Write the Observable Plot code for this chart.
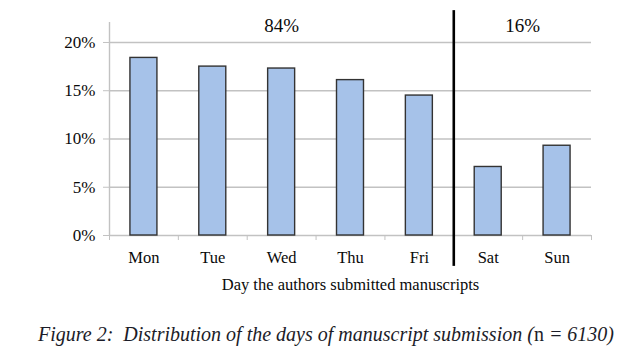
<!DOCTYPE html>
<html>
<head>
<meta charset="utf-8">
<script src="https://cdn.jsdelivr.net/npm/d3@7"></script>
<script src="https://cdn.jsdelivr.net/npm/@observablehq/plot@0.6"></script>
<style>
  html, body { margin: 0; padding: 0; background: #fff; }
  #caption { font-family: "Liberation Serif", serif; font-style: italic; font-size: 20px; color: #1c1c28; white-space: pre; text-align: center; width: 652px; margin-top: 23px; }
  #caption .up { font-style: normal; }
</style>
</head>
<body>
<div id="chart"></div>
<div id="caption">Figure 2:  Distribution of the days of manuscript submission (<span class="up">n</span> = 6130)</div>
<script>
const days = ["Mon", "Tue", "Wed", "Thu", "Fri", "Sat", "Sun"];
const shares = [18.4, 17.5, 17.3, 16.1, 14.5, 7.1, 9.3];
const yTicks = [0, 5, 10, 15, 20];
const groupLabels = ["84%", "16%"];
const groupDays = [["Mon", "Tue", "Wed", "Thu", "Fri"], ["Sat", "Sun"]];
const xTitle = "Day the authors submitted manuscripts";

const data = days.map((d, i) => ({day: d, i, share: shares[i]}));
const groups = groupLabels.map((g, k) => ({label: g, i: d3.mean(groupDays[k], d => days.indexOf(d))}));
const splitAt = days.indexOf("Sat") - 0.5;
const bounds = d3.range(days.length + 1).map(k => k - 0.5);
const yMax = 22.07;
const half = 0.196;
const font = "Liberation Serif, Times New Roman, serif";
const gray = "#c2c2c2";

const chart = Plot.plot({
  width: 638,
  height: 300,
  marginLeft: 109,
  marginRight: 47,
  marginTop: 22,
  marginBottom: 65,
  style: {fontFamily: font, color: "#0a0a0a", background: "#fff"},
  x: {type: "linear", domain: [-0.5, days.length - 0.5]},
  y: {domain: [0, yMax]},
  marks: [
    Plot.ruleY(yTicks, {stroke: gray, strokeWidth: 1.4}),
    Plot.ruleX([-0.5], {y1: 0, y2: yMax, stroke: gray, strokeWidth: 1.4}),
    Plot.axisY({ticks: yTicks, tickFormat: d => d + "%", tickSize: 6, tickPadding: 8, stroke: gray, strokeOpacity: 1, fontSize: 17, label: null}),
    Plot.axisX({ticks: bounds, tickFormat: () => "", tickSize: 5, stroke: gray, strokeOpacity: 1, label: null}),
    Plot.axisX({ticks: d3.range(days.length), tickFormat: i => days[i], tickSize: 0, tickPadding: 16, fontSize: 16.5,
      label: xTitle, labelAnchor: "center", labelArrow: "none", labelOffset: 54}),
    Plot.rectY(data, {x1: d => d.i - half, x2: d => d.i + half, y: "share", fill: "#a6c2e9", stroke: "#333", strokeWidth: 1.4}),
    Plot.ruleX([splitAt], {y1: -3.2, y2: 23.3, stroke: "#000", strokeWidth: 2.6, clip: false}),
    Plot.text(groups, {x: "i", y: 21.75, text: "label", fontSize: 19, fill: "#0a0a0a"})
  ]
});
document.getElementById("chart").append(chart);
</script>
</body>
</html>
